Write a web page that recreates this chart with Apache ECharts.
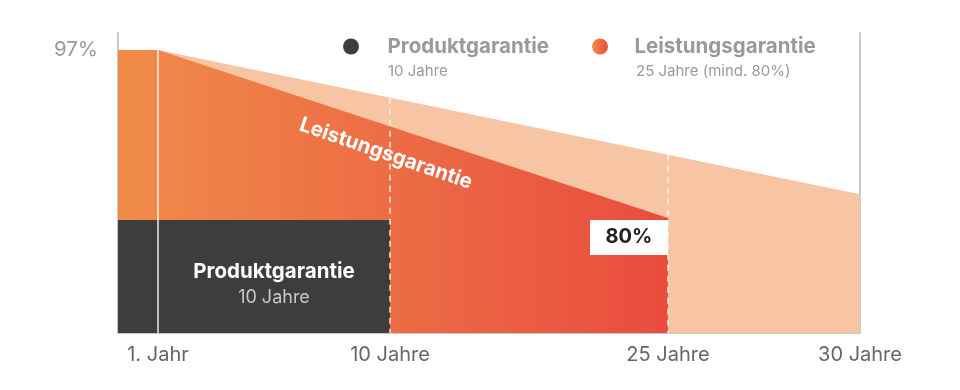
<!DOCTYPE html>
<html><head><meta charset="utf-8">
<script src="https://cdn.jsdelivr.net/npm/echarts@6/dist/echarts.min.js"></script>
<style>html,body{margin:0;padding:0;background:#fff}#c{width:960px;height:390px}</style>
</head><body><div id="c"></div>
<script>
// x axis is schematic (not linear in years): positions on the drawing axis
const xLabels = ['1. Jahr', '10 Jahre', '25 Jahre', '30 Jahre'];
const xPos = [1, 6.8, 13.75, 18.55];
const xMin = 0, xMax = 18.55;
const yMin = 68.36, yMax = 98.72;
const yTickValues = [97];
// series values (percent of nominal output)
const leistungData = [[0, 97], [1, 97], [13.75, 80]];
const peachData = [[1, 97], [18.55, 82.4]];
const produktData = [[0, 79.8], [6.8, 79.8]];
const legendNames = ['Produktgarantie', 'Leistungsgarantie'];
const legendSubs = ['10 Jahre', '25 Jahre (mind. 80%)'];
const boxLabel = '80%';

const FONT = 'Inter, "Noto Sans", sans-serif';
const chart = echarts.init(document.getElementById('c'));
const grad = () => new echarts.graphic.LinearGradient(0, 0, 1, 0, [
  {offset: 0, color: '#f08c4a'}, {offset: 1, color: '#e94c3e'}]);
function peachAt(x) {
  const [a, b] = peachData;
  return a[1] + (b[1] - a[1]) * (x - a[0]) / (b[0] - a[0]);
}
const dashed = {color: 'rgba(255,245,235,0.9)', width: 1.5, type: [6, 5]};
const axisGray = '#c9c9c9';
const legendBase = {
  top: 36, padding: 0, selectedMode: false, icon: 'circle', itemWidth: 21, itemHeight: 16,
  symbolKeepAspect: false
};

chart.setOption({
  animation: false,
  textStyle: {fontFamily: FONT},
  grid: {left: 118, right: 100, top: 33, bottom: 57},
  xAxis: {
    type: 'value', min: xMin, max: xMax,
    axisLine: {show: true, onZero: false, lineStyle: {color: axisGray, width: 2}},
    axisTick: {show: false}, splitLine: {show: false},
    axisLabel: {
      customValues: xPos, color: '#666', fontSize: 20, margin: 12, fontFamily: FONT,
      formatter: v => { const i = xPos.findIndex(p => Math.abs(p - v) < 1e-6); return i >= 0 ? xLabels[i] : ''; }
    }
  },
  yAxis: [{
    type: 'value', min: yMin, max: yMax,
    axisLine: {show: true, lineStyle: {color: axisGray, width: 2}},
    axisTick: {show: false}, splitLine: {show: false},
    axisLabel: {customValues: yTickValues, formatter: '{value}%', color: '#999', fontSize: 20.5, margin: 20, fontFamily: FONT}
  }, {
    type: 'value', position: 'right', min: yMin, max: yMax,
    axisLine: {show: true, lineStyle: {color: axisGray, width: 2}},
    axisTick: {show: false}, splitLine: {show: false}, axisLabel: {show: false}
  }],
  legend: [Object.assign({}, legendBase, {
    left: 343,
    data: [{name: legendNames[0], itemStyle: {color: '#3d3d3d'}}],
    textStyle: {color: '#9a9a9a', fontSize: 20.5, fontWeight: 'bold', fontFamily: FONT, padding: [0, 0, 0, 21]}
  }), Object.assign({}, legendBase, {
    left: 592,
    data: [{name: legendNames[1], itemStyle: {color: grad()}}],
    textStyle: {color: '#9a9a9a', fontSize: 20.5, fontWeight: 'bold', fontFamily: FONT, padding: [0, 0, 0, 19]}
  })],
  graphic: [
    {type: 'text', left: 388, top: 64, style: {text: legendSubs[0], fill: '#9a9a9a', font: '15px ' + FONT}},
    {type: 'text', left: 636, top: 64, style: {text: legendSubs[1], fill: '#9a9a9a', font: '15px ' + FONT}}
  ],
  series: [{
    name: 'Leistung30', type: 'line', data: peachData, symbol: 'none', z: 1,
    lineStyle: {width: 0}, itemStyle: {color: '#f7c4a4'},
    areaStyle: {color: '#f7c4a4', opacity: 1, origin: 'start'}
  }, {
    name: legendNames[1], type: 'line', data: leistungData, symbol: 'none', z: 2,
    lineStyle: {width: 0}, itemStyle: {color: grad()},
    areaStyle: {color: grad(), opacity: 1, origin: 'start'}
  }, {
    name: legendNames[0], type: 'line', data: produktData, symbol: 'none', z: 3,
    lineStyle: {width: 0}, itemStyle: {color: '#3d3d3d'},
    areaStyle: {color: '#3d3d3d', opacity: 1, origin: 'start'},
    markLine: {
      silent: true, symbol: 'none', label: {show: false},
      data: [
        [{coord: [xPos[0], leistungData[1][1]], lineStyle: {color: 'rgba(255,255,255,0.9)', width: 1.5, type: 'solid'}}, {coord: [xPos[0], yMin]}],
        [{coord: [xPos[1], peachAt(xPos[1])], lineStyle: dashed}, {coord: [xPos[1], yMin]}],
        [{coord: [xPos[2], peachAt(xPos[2])], lineStyle: dashed}, {coord: [xPos[2], yMin]}]
      ]
    },
    markPoint: {
      silent: true,
      data: [{
        coord: [6.7, 86.5], symbol: 'circle', symbolSize: 0,
        label: {show: true, position: 'inside', formatter: legendNames[1], color: '#fff', fontSize: 20.5, fontWeight: 'bold', rotate: -19, fontFamily: FONT}
      }, {
        coord: [3.9, 73.3], symbol: 'circle', symbolSize: 0,
        label: {show: true, position: 'inside', formatter: '{a|' + legendNames[0] + '}\n{b|' + legendSubs[0] + '}',
          rich: {a: {color: '#fff', fontSize: 20.5, fontWeight: 'bold', lineHeight: 26, fontFamily: FONT, align: 'center'},
                 b: {color: '#c8c8c8', fontSize: 18, lineHeight: 24, fontFamily: FONT, align: 'center'}}}
      }, {
        coord: [xPos[2], leistungData[2][1]], symbol: 'rect', symbolSize: [78, 35], symbolOffset: [-39, 19.5],
        itemStyle: {color: '#fff'},
        label: {show: true, position: 'inside', formatter: boxLabel, color: '#222', fontSize: 20, fontWeight: 'bold', fontFamily: FONT}
      }]
    }
  }]
});
</script></body></html>
